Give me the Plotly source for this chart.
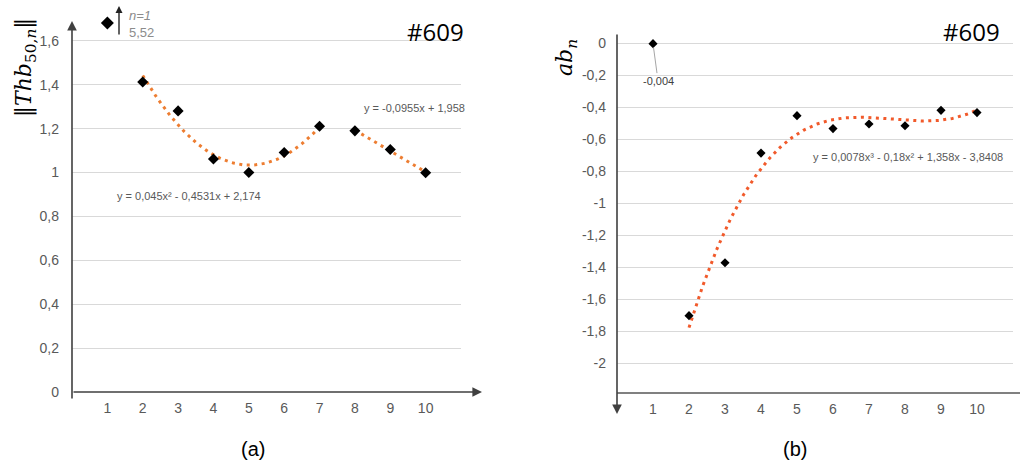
import numpy as np
import plotly.graph_objects as go

W, H = 1020, 468

# ---------------- data ----------------
n_a = [2, 3, 4, 5, 6, 7, 8, 9, 10]
thb = [1.413, 1.281, 1.062, 1.0, 1.091, 1.211, 1.19, 1.105, 0.999]
n1_label = "n=1"
n1_value = 5.52                    # off-scale value for n=1 (shown at top)

n_b = [1, 2, 3, 4, 5, 6, 7, 8, 9, 10]
ab = [-0.004, -1.704, -1.373, -0.688, -0.454, -0.535, -0.506, -0.517, -0.421, -0.435]

x_ticks = [1, 2, 3, 4, 5, 6, 7, 8, 9, 10]
y_ticks_a = [0, 0.2, 0.4, 0.6, 0.8, 1.0, 1.2, 1.4, 1.6]
y_ticks_b = [0, -0.2, -0.4, -0.6, -0.8, -1.0, -1.2, -1.4, -1.6, -1.8, -2.0]

eq_quad = "y = 0,045x² - 0,4531x + 2,174"
eq_lin = "y = -0,0955x + 1,958"
eq_cub = "y = 0,0078x³ - 0,18x² + 1,358x - 3,8408"
label_b1 = "-0,004"
sample_id = "#609"

# ---------------- helpers ----------------
def px(x):
    return x / W

def py(y):
    return 1 - y / H

def fmt(v):
    return f"{v:g}".replace(".", ",")

GRAY = "#595959"
GRID = "#d9d9d9"
ORANGE_A = "#ED7D31"
ORANGE_B = "#F15A2B"
AXC = "#404040"
DOTS = "3px,4.5px"

YR_A = [0, 1.686]
YR_B = [-2.1875, 0.0625]

# trendlines fitted from the data
xa = np.array(n_a, dtype=float)
ya = np.array(thb)
qa = np.polyfit(xa[:6], ya[:6], 2)
la = np.polyfit(xa[6:], ya[6:], 1)
xq = np.linspace(2, 7, 120)
xl = np.linspace(8, 10, 40)

xb = np.array(n_b[1:], dtype=float)
yb = np.array(ab[1:])
cb = np.polyfit(xb, yb, 3)
xc = np.linspace(2, 10, 200)

fig = go.Figure()

fig.add_trace(go.Scatter(x=xq, y=np.polyval(qa, xq), mode="lines",
                         line=dict(color=ORANGE_A, width=3, dash=DOTS),
                         xaxis="x", yaxis="y", hoverinfo="skip"))
fig.add_trace(go.Scatter(x=xl, y=np.polyval(la, xl), mode="lines",
                         line=dict(color=ORANGE_A, width=3, dash=DOTS),
                         xaxis="x", yaxis="y", hoverinfo="skip"))
fig.add_trace(go.Scatter(x=n_a, y=thb, mode="markers",
                         marker=dict(symbol="diamond", size=8.5, color="black"),
                         xaxis="x", yaxis="y"))
# off-scale point n=1 drawn at the top of the axis
fig.add_trace(go.Scatter(x=[1], y=[min(n1_value, YR_A[1] - 0.005)], mode="markers",
                         marker=dict(symbol="diamond", size=10, color="black"),
                         cliponaxis=False, xaxis="x", yaxis="y"))

fig.add_trace(go.Scatter(x=xc, y=np.polyval(cb, xc), mode="lines",
                         line=dict(color=ORANGE_B, width=3, dash=DOTS),
                         xaxis="x2", yaxis="y2", hoverinfo="skip"))
fig.add_trace(go.Scatter(x=n_b, y=ab, mode="markers",
                         marker=dict(symbol="diamond", size=7, color="black"),
                         xaxis="x2", yaxis="y2"))

tickfont = dict(family="Liberation Sans, Arial", size=14, color=GRAY)

fig.update_layout(
    width=W, height=H, margin=dict(l=0, r=0, t=0, b=0),
    paper_bgcolor="white", plot_bgcolor="white", showlegend=False,
    separators=", ",
    xaxis=dict(domain=[px(72), px(461)], range=[0, 11], tickvals=x_ticks,
               showgrid=False, zeroline=False, showline=False, ticks="",
               tickfont=tickfont, anchor="y", ticklabelstandoff=6, automargin=False),
    yaxis=dict(domain=[py(392), py(22)], range=YR_A, tickvals=y_ticks_a,
               ticktext=[fmt(v) for v in y_ticks_a],
               showgrid=True, gridcolor=GRID, gridwidth=1, zeroline=False,
               showline=False, ticks="", tickfont=tickfont, anchor="x",
               ticklabelstandoff=12, automargin=False),
    xaxis2=dict(domain=[px(617), px(1013)], range=[0, 11], tickvals=x_ticks,
                showgrid=False, zeroline=False, showline=False, ticks="",
                tickfont=tickfont, anchor="y2", ticklabelstandoff=6, automargin=False),
    yaxis2=dict(domain=[py(393), py(33)], range=YR_B, tickvals=y_ticks_b,
                ticktext=[fmt(v) for v in y_ticks_b],
                showgrid=True, gridcolor=GRID, gridwidth=1, zeroline=False,
                showline=False, ticks="", tickfont=tickfont, anchor="x2",
                ticklabelstandoff=10, automargin=False),
)

def text_ann(x, y, text, font, xanchor="center", yanchor="middle", **kw):
    d = dict(x=x, y=y, xref="paper", yref="paper", showarrow=False, text=text,
             font=font, xanchor=xanchor, yanchor=yanchor)
    d.update(kw)
    return d

ann = []
# axis arrows
ann.append(dict(x=px(72), y=py(21), xref="paper", yref="paper", ax=0, ay=379,
                showarrow=True, arrowhead=2, arrowsize=1.2, arrowwidth=1.6,
                arrowcolor=AXC, text=""))
ann.append(dict(x=px(482), y=py(392), xref="paper", yref="paper", ax=-410, ay=0,
                showarrow=True, arrowhead=2, arrowsize=1.2, arrowwidth=1.6,
                arrowcolor=AXC, text=""))
ann.append(dict(x=px(617), y=py(414), xref="paper", yref="paper", ax=0, ay=-381,
                showarrow=True, arrowhead=2, arrowsize=1.2, arrowwidth=1.6,
                arrowcolor=AXC, text=""))
# n=1 arrow and label
ann.append(dict(x=px(119), y=py(6), xref="paper", yref="paper", ax=0, ay=30,
                showarrow=True, arrowhead=2, arrowsize=1, arrowwidth=1.4,
                arrowcolor="#222", text=""))
ann.append(text_ann(px(127), py(24),
                    f"<i>{n1_label}</i><br>{str(n1_value).replace('.', ',')}",
                    dict(family="Liberation Sans, Arial", size=13, color="#8c8c8c"),
                    xanchor="left", align="left"))
# equations
eqfont = dict(family="Liberation Sans, Arial", size=11, color=GRAY)
ann.append(text_ann(px(189), py(196), eq_quad, eqfont))
ann.append(text_ann(px(414), py(108), eq_lin, eqfont))
ann.append(text_ann(px(908), py(157), eq_cub, eqfont))
# data label -0,004 with leader line
ann.append(dict(x=n_b[0], y=ab[0], xref="x2", yref="y2", ax=5, ay=37,
                showarrow=True, arrowhead=0, arrowwidth=1, arrowcolor="#a6a6a6",
                standoff=4, text=label_b1,
                font=dict(family="Liberation Sans, Arial", size=11, color="#404040")))
# sample ids
idfont = dict(family="Open Sans, Liberation Sans", size=24, color="black")
ann.append(text_ann(px(466), py(32), sample_id, idfont, xanchor="right"))
ann.append(text_ann(px(1002), py(32), sample_id, idfont, xanchor="right"))
# axis titles
titlefont = dict(family="DejaVu Serif, Liberation Serif", size=22, color="black")
ann.append(text_ann(px(25), py(68), "‖<i>Thb</i><sub>50,<i>n</i></sub>‖", titlefont,
                    textangle=-90))
ann.append(text_ann(px(566), py(58), "<i>ab</i><sub><i>n</i></sub>", titlefont,
                    textangle=-90))
# captions
capfont = dict(family="Liberation Sans, Arial", size=20, color="black")
ann.append(text_ann(px(253), py(449), "(a)", capfont))
ann.append(text_ann(px(795), py(449), "(b)", capfont))

fig.update_layout(annotations=ann)

fig.add_shape(type="line", xref="paper", yref="paper", x0=px(617), x1=1,
              y0=py(393), y1=py(393), line=dict(color="#808080", width=2))

fig.write_html("out.html", config={"displayModeBar": False},
               post_script="document.body.style.margin='0px';")
